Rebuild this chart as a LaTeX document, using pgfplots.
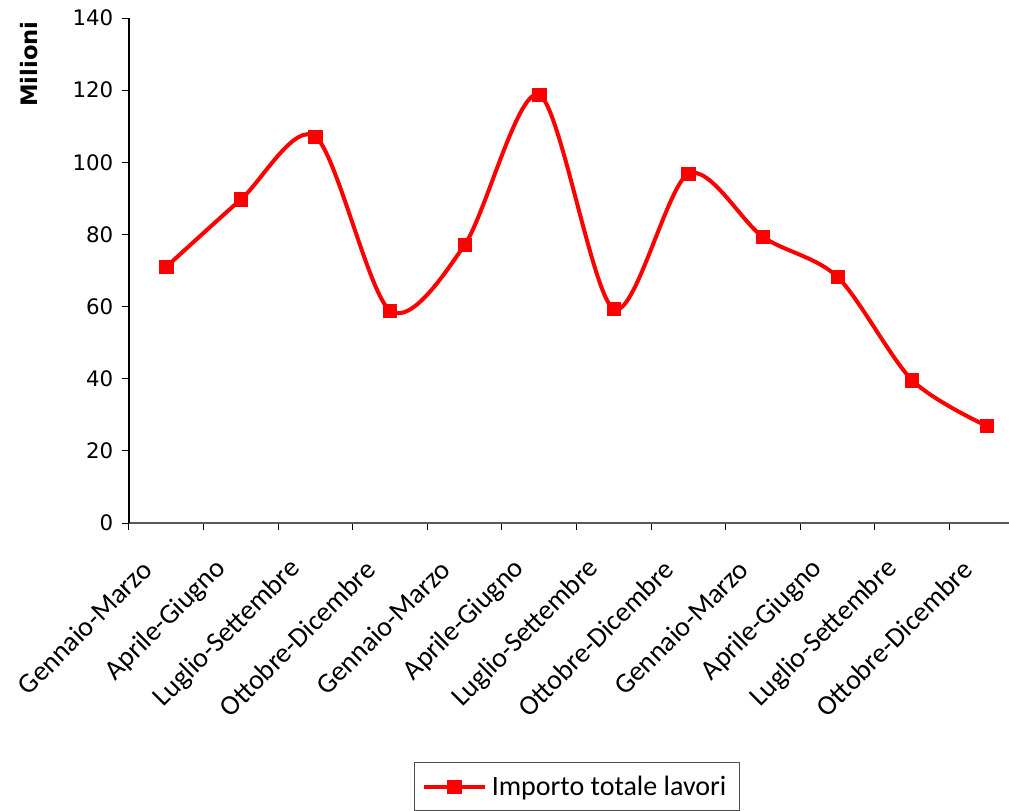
\documentclass[border=0pt]{standalone}
\usepackage{pgfplots}
\pgfplotsset{compat=1.18}
\usepackage{fontspec}
\setmainfont{Carlito}
\newfontfamily\tickfont{DejaVu Sans}
\begin{document}
\begin{tikzpicture}
\begin{axis}[
  at={(96.75pt,-392.25pt)}, anchor=south west,
  scale only axis, width=671.25pt, height=378.75pt,
  xmin=-0.5, xmax=11.5, ymin=0, ymax=140,
  axis x line*=bottom, axis y line*=left,
  axis line style={-},
  x axis line style={draw=black!65, line width=1.2pt},
  y axis line style={draw=black, line width=0.9pt},
  ytick={0,20,...,140},
  xtick={-0.5,0.5,...,10.5},
  xticklabels={Gennaio-Marzo,Aprile-Giugno,Luglio-Settembre,Ottobre-Dicembre,Gennaio-Marzo,Aprile-Giugno,Luglio-Settembre,Ottobre-Dicembre,Gennaio-Marzo,Aprile-Giugno,Luglio-Settembre,Ottobre-Dicembre},
  tick align=outside,
  major tick length=5.25pt,
  tick style={black, line width=0.75pt},
  xticklabel style={font=\fontsize{21}{24}\selectfont, rotate=45, anchor=east, xshift=-5.5pt, yshift=-28pt},
  yticklabel style={font=\tickfont\fontsize{16}{19}\selectfont, xshift=-3pt},
  /pgf/number format/assume math mode=true,
  ylabel={\tickfont\bfseries\fontsize{17}{20}\selectfont Milioni},
  ylabel style={at={(axis description cs:-0.1117,0.909)}, anchor=center, rotate=0},
  legend style={at={(axis description cs:0.3184,-0.4733)}, anchor=north west,
    draw=black!70, line width=0.75pt, font=\fontsize{21}{24}\selectfont,
    inner xsep=6pt, inner ysep=8pt, nodes={inner xsep=4pt}},
  legend cell align=left,
  legend image code/.code={\draw[mark repeat=2,mark phase=2] plot coordinates {(0pt,0pt) (22.5pt,0pt) (45pt,0pt)};},
]
\addplot[red, line width=3pt, smooth, tension=0.5, mark=square*, mark size=5pt,
  mark options={solid, fill=red, line width=0.5pt}]
  coordinates {
  (0,71.0) (1,89.7) (2,107.1) (3,58.9) (4,77.1) (5,118.7)
  (6,59.3) (7,96.8) (8,79.3) (9,68.2) (10,39.6) (11,26.9)
  };
\addlegendentry{Importo totale lavori}
\end{axis}
\pgfresetboundingbox
\path[use as bounding box] (0,0) rectangle (756.75pt,-607.5pt);
\end{tikzpicture}
\end{document}
